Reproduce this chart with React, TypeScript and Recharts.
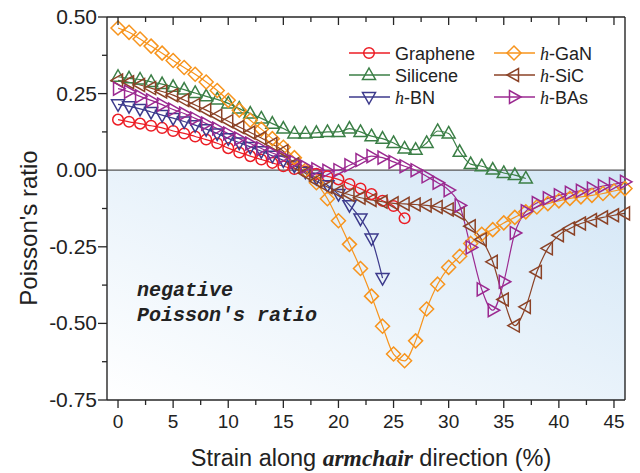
import React from "react";
import { LineChart, Line, XAxis, YAxis, ReferenceLine, ReferenceArea } from "recharts";

// strain (%) along armchair direction
const strain = [0, 1, 2, 3, 4, 5, 6, 7, 8, 9, 10, 11, 12, 13, 14, 15, 16, 17, 18, 19, 20, 21, 22, 23, 24, 25, 26, 27, 28, 29, 30, 31, 32, 33, 34, 35, 36, 37, 38, 39, 40, 41, 42, 43, 44, 45, 46];

const graphene = [0.165, 0.158, 0.152, 0.145, 0.138, 0.128, 0.12, 0.11, 0.1, 0.088, 0.072, 0.058, 0.046, 0.035, 0.024, 0.013, 0.004, -0.004, -0.012, -0.02, -0.03, -0.045, -0.06, -0.078, -0.1, -0.117, -0.157];
const silicene = [0.305, 0.3, 0.296, 0.288, 0.281, 0.272, 0.263, 0.252, 0.241, 0.231, 0.218, 0.201, 0.185, 0.169, 0.152, 0.136, 0.12, 0.12, 0.122, 0.125, 0.125, 0.136, 0.125, 0.111, 0.103, 0.089, 0.071, 0.067, 0.089, 0.128, 0.12, 0.06, 0.02, 0.013, 0.002, -0.009, -0.016, -0.027];
const hBN = [0.215, 0.209, 0.2, 0.19, 0.18, 0.17, 0.159, 0.147, 0.134, 0.12, 0.104, 0.09, 0.076, 0.062, 0.047, 0.032, 0.015, -0.005, -0.025, -0.049, -0.078, -0.114, -0.158, -0.223, -0.352];
const hGaN = [0.464, 0.45, 0.428, 0.405, 0.382, 0.358, 0.335, 0.313, 0.288, 0.26, 0.228, 0.196, 0.163, 0.134, 0.103, 0.075, 0.041, 0.0, -0.041, -0.093, -0.165, -0.242, -0.321, -0.411, -0.509, -0.6, -0.622, -0.557, -0.453, -0.372, -0.317, -0.281, -0.239, -0.209, -0.194, -0.172, -0.154, -0.136, -0.12, -0.109, -0.1, -0.092, -0.087, -0.082, -0.076, -0.068, -0.06];
const hSiC = [0.293, 0.287, 0.278, 0.268, 0.257, 0.245, 0.229, 0.213, 0.196, 0.178, 0.16, 0.141, 0.123, 0.105, 0.085, 0.062, 0.02, -0.01, -0.035, -0.055, -0.07, -0.08, -0.09, -0.097, -0.103, -0.108, -0.11, -0.112, -0.115, -0.12, -0.128, -0.141, -0.183, -0.226, -0.299, -0.422, -0.507, -0.446, -0.332, -0.255, -0.212, -0.19, -0.174, -0.163, -0.154, -0.147, -0.141];
const hBAs = [0.266, 0.256, 0.241, 0.228, 0.214, 0.198, 0.185, 0.169, 0.152, 0.136, 0.12, 0.103, 0.087, 0.071, 0.056, 0.043, 0.027, 0.011, 0.003, -0.002, 0.0, 0.016, 0.033, 0.046, 0.041, 0.027, 0.013, 0.0, -0.02, -0.041, -0.065, -0.115, -0.252, -0.389, -0.457, -0.364, -0.205, -0.134, -0.107, -0.092, -0.082, -0.074, -0.067, -0.06, -0.052, -0.046, -0.038];

const xTicks = [0, 2.5, 5, 7.5, 10, 12.5, 15, 17.5, 20, 22.5, 25, 27.5, 30, 32.5, 35, 37.5, 40, 42.5, 45];
const yTicks = [-0.75, -0.625, -0.5, -0.375, -0.25, -0.125, 0, 0.125, 0.25, 0.375, 0.5];

const rows = strain.map((s, i) => ({
  strain: s,
  graphene: graphene[i],
  silicene: silicene[i],
  hBN: hBN[i],
  hGaN: hGaN[i],
  hSiC: hSiC[i],
  hBAs: hBAs[i],
}));

type Shape = "circle" | "up" | "down" | "diamond" | "left" | "right";

const series: { key: string; label: string; prefix: boolean; color: string; shape: Shape }[] = [
  { key: "graphene", label: "Graphene", prefix: false, color: "#ec1c24", shape: "circle" },
  { key: "silicene", label: "Silicene", prefix: false, color: "#3b7f46", shape: "up" },
  { key: "hBN", label: "-BN", prefix: true, color: "#3c3a8c", shape: "down" },
  { key: "hGaN", label: "-GaN", prefix: true, color: "#f7941d", shape: "diamond" },
  { key: "hSiC", label: "-SiC", prefix: true, color: "#8b4226", shape: "left" },
  { key: "hBAs", label: "-BAs", prefix: true, color: "#9b2990", shape: "right" },
];

const AXIS = "#262626";
const SANS = "'Liberation Sans', Arial, sans-serif";
const SERIF = "'Liberation Serif', 'Times New Roman', serif";

function Marker({ shape, cx, cy, color }: { shape: Shape; cx: number; cy: number; color: string }) {
  const common = { fill: "none", stroke: color, strokeWidth: 1.5 };
  const pts = (p: number[][]) => p.map(([a, b]) => `${cx + a},${cy + b}`).join(" ");
  switch (shape) {
    case "circle":
      return <circle cx={cx} cy={cy} r={5.3} {...common} />;
    case "diamond":
      return <polygon points={pts([[0, -7], [7, 0], [0, 7], [-7, 0]])} {...common} />;
    case "up":
      return <polygon points={pts([[0, -7], [6.5, 4.5], [-6.5, 4.5]])} {...common} />;
    case "down":
      return <polygon points={pts([[0, 7], [6.5, -4.5], [-6.5, -4.5]])} {...common} />;
    case "left":
      return <polygon points={pts([[-7, 0], [4.5, -6.5], [4.5, 6.5]])} {...common} />;
    default:
      return <polygon points={pts([[7, 0], [-4.5, -6.5], [-4.5, 6.5]])} {...common} />;
  }
}

const isMajorX = (v: number) => v % 5 === 0;
const isMajorY = (v: number) => Math.abs(v * 4 - Math.round(v * 4)) < 1e-6;

function BottomTick({ x, y, payload }: any) {
  const major = isMajorX(payload.value);
  return (
    <g>
      <line x1={x} x2={x} y1={y} y2={y + (major ? 8 : 5)} stroke={AXIS} strokeWidth={1.3} />
      {major && (
        <text x={x} y={y + 28} textAnchor="middle" fontSize={19} fontFamily={SANS} fill="#222">
          {payload.value}
        </text>
      )}
    </g>
  );
}

function TopTick({ x, y, payload }: any) {
  const major = isMajorX(payload.value);
  return <line x1={x} x2={x} y1={y} y2={y + (major ? 8 : 5)} stroke={AXIS} strokeWidth={1.3} />;
}

function LeftTick({ x, y, payload }: any) {
  const major = isMajorY(payload.value);
  return (
    <g>
      <line x1={x - (major ? 9 : 5)} x2={x} y1={y} y2={y} stroke={AXIS} strokeWidth={1.3} />
      {major && (
        <text x={x - 10} y={y + 7} textAnchor="end" fontSize={21} fontFamily={SANS} fill="#222">
          {payload.value.toFixed(2)}
        </text>
      )}
    </g>
  );
}

function RightTick({ x, y, payload }: any) {
  const major = isMajorY(payload.value);
  return <line x1={x - (major ? 8 : 5)} x2={x} y1={y} y2={y} stroke={AXIS} strokeWidth={1.3} />;
}

function Overlay() {
  const legendCols = [349, 494];
  const rowsY = [53, 75, 97];
  return (
    <svg width={640} height={473} style={{ position: "absolute", left: 0, top: 0, pointerEvents: "none" }}>
      {series.map((s, i) => {
        const x0 = legendCols[Math.floor(i / 3)];
        const cy = rowsY[i % 3];
        return (
          <g key={s.key}>
            <line x1={x0} x2={x0 + 41} y1={cy} y2={cy} stroke={s.color} strokeWidth={1.4} />
            <Marker shape={s.shape} cx={x0 + 20} cy={cy} color={s.color} />
            <text x={x0 + 46} y={cy + 6.5} fontSize={18} fontFamily={SANS} fill="#222">
              {s.prefix && (
                <tspan fontFamily={SERIF} fontStyle="italic">
                  h
                </tspan>
              )}
              <tspan>{s.label}</tspan>
            </text>
          </g>
        );
      })}
      <text x={137} y={296} fontSize={20} fontFamily="'Liberation Mono', 'Courier New', monospace" fontWeight="bold" fontStyle="italic" fill="#222">
        negative
      </text>
      <text x={137} y={321} fontSize={20} fontFamily="'Liberation Mono', 'Courier New', monospace" fontWeight="bold" fontStyle="italic" fill="#222">
        Poisson's ratio
      </text>
      <text transform="translate(37,228) rotate(-90)" textAnchor="middle" fontSize={24} fontFamily={SANS} fill="#222">
        Poisson's ratio
      </text>
      <text x={371} y={466} textAnchor="middle" fontSize={23.5} fontFamily={SANS} fill="#222">
        Strain along{" "}
        <tspan fontFamily={SERIF} fontStyle="italic" fontWeight="bold">
          armchair
        </tspan>{" "}
        direction (%)
      </text>
    </svg>
  );
}

export default function App() {
  return (
    <div style={{ position: "absolute", left: 0, top: 0, width: 640, height: 473, background: "#fff" }}>
      <LineChart width={640} height={473} data={rows} margin={{ top: 7, right: 5, bottom: 43, left: 57 }}>
        <defs>
          <linearGradient id="negFill" x1="0" y1="1" x2="1" y2="0">
            <stop offset="0%" stopColor="#ffffff" />
            <stop offset="100%" stopColor="#d3e6f6" />
          </linearGradient>
        </defs>
        <XAxis xAxisId="b" type="number" dataKey="strain" domain={[-1, 46]} ticks={xTicks} interval={0}
          tickSize={0} tickMargin={0} height={30} tickLine={false}
          axisLine={{ stroke: AXIS, strokeWidth: 1.4 }} tick={(p: any) => <BottomTick {...p} />} />
        <XAxis xAxisId="t" orientation="top" type="number" dataKey="strain" domain={[-1, 46]} ticks={xTicks} interval={0}
          tickSize={0} tickMargin={0} height={10} tickLine={false}
          axisLine={{ stroke: AXIS, strokeWidth: 1.4 }} tick={(p: any) => <TopTick {...p} />} />
        <YAxis yAxisId="l" type="number" domain={[-0.75, 0.5]} ticks={yTicks} interval={0}
          tickSize={0} tickMargin={0} width={50} tickLine={false}
          axisLine={{ stroke: AXIS, strokeWidth: 1.4 }} tick={(p: any) => <LeftTick {...p} />} />
        <YAxis yAxisId="r" orientation="right" type="number" domain={[-0.75, 0.5]} ticks={yTicks} interval={0}
          tickSize={0} tickMargin={0} width={10} tickLine={false}
          axisLine={{ stroke: AXIS, strokeWidth: 1.4 }} tick={(p: any) => <RightTick {...p} />} />
        <ReferenceArea xAxisId="b" yAxisId="l" y1={-0.75} y2={0} fill="url(#negFill)" fillOpacity={1} stroke="none" />
        <ReferenceLine xAxisId="b" yAxisId="l" y={0} stroke="#555" strokeWidth={1.3} />
        {series.map((s) => (
          <Line
            key={s.key}
            xAxisId="b"
            yAxisId="l"
            dataKey={s.key}
            type="monotone"
            stroke={s.color}
            strokeWidth={1.2}
            isAnimationActive={false}
            activeDot={false}
            dot={(p: any) =>
              p.cy == null || p.value == null ? (
                <g key={`${s.key}-${p.index}`} />
              ) : (
                <Marker key={`${s.key}-${p.index}`} shape={s.shape} cx={p.cx} cy={p.cy} color={s.color} />
              )
            }
          />
        ))}
      </LineChart>
      <Overlay />
    </div>
  );
}
